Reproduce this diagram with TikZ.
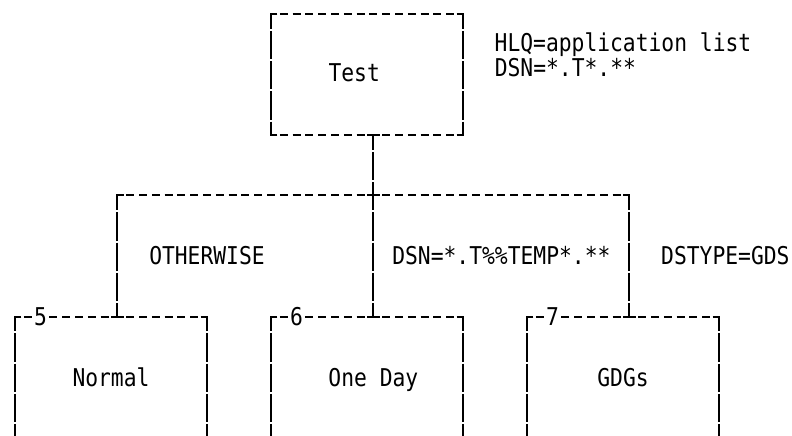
\documentclass[tikz,border=0pt]{standalone}
\usepackage{fontspec}
\setmonofont[FakeStretch=0.87]{DejaVu Sans Mono}
\begin{document}
\begin{tikzpicture}[x=1pt,y=-1pt]
\tikzset{
  lin/.style={line width=2pt, black},
  hd/.style={lin, dash pattern=on 8pt off 4.8pt, dash phase=4pt},
  hdb/.style={lin, dash pattern=on 8pt off 4.8pt, dash phase=10.4pt},
  vd/.style={lin, dash pattern=on 28.23pt off 2pt, dash phase=#1pt},
  txt/.style={font=\ttfamily\fontsize{24.5}{29}\selectfont, inner sep=0pt, anchor=base},
}
\useasboundingbox (0,0) rectangle (792,436);

% ---------- Test box ----------
\coordinate (tTL) at (271,14);
\coordinate (tTR) at (463,14);
\coordinate (tBL) at (271,135);
\coordinate (tBR) at (463,135);
\coordinate (tJ) at (373.4,135);
\draw[hd] (tTL) -- (tTR);
\draw[hd] (tBL) -- (tBR);
\draw[vd=13.23] (tTL) -- (tBL);
\draw[vd=13.23] (tTR) -- (tBR);
\draw[lin] (tTL) ++(6.4,0) -- ++(-6.4,0) -- ++(0,6.4);
\draw[lin] (tTR) ++(-6.4,0) -- ++(6.4,0) -- ++(0,6.4);
\draw[lin] (tBL) ++(6.4,0) -- ++(-6.4,0) -- ++(0,-6.4);
\draw[lin] (tBR) ++(-6.4,0) -- ++(6.4,0) -- ++(0,-6.4);
\draw[lin] (tJ) ++(-6.4,0) -- ++(12.8,0);

\node[txt] (test) at (354.2,81.7) {Test};
\node[txt] (hlq) at (623,51.7) {HLQ=application list};
\node[txt] (dsn1) at (565.4,76.7) {DSN=*.T*.**};

% ---------- bus ----------
\coordinate (busL) at (117.4,195);
\coordinate (busR) at (629.4,195);
\coordinate (busJ) at (373.4,195);
\draw[vd=13.31] (tJ) -- (busJ);
\draw[hd] (busL) -- (busR);
\draw[lin] (busL) ++(6.4,0) -- ++(-6.4,0) -- ++(0,6.4);
\draw[lin] (busR) ++(-6.4,0) -- ++(6.4,0) -- ++(0,6.4);
\draw[lin] (busJ) ++(-6.4,0) -- ++(12.8,0);

\node[txt] (oth) at (207,264) {OTHERWISE};
\node[txt] (dsn2) at (501.4,264) {DSN=*.T\%\%TEMP*.**};
\node[txt] (dst) at (725.4,264) {DSTYPE=GDS};

% ---------- child boxes ----------
\foreach \L/\n/\lab/\off in {15/5/Normal/96, 271/6/One Day/102.4, 527/7/GDGs/96}{
  \pgfmathsetmacro{\R}{\L+192}
  \pgfmathsetmacro{\J}{\L+102.4}
  \coordinate (k\n TL) at (\L,317);
  \coordinate (k\n TR) at (\R,317);
  \coordinate (k\n J) at (\J,317);
  \coordinate (k\n BL) at (\L,436);
  \coordinate (k\n BR) at (\R,436);
  \draw[hd] (k\n TL) -- ++(19.2,0);
  \draw[hdb] (k\n TL) ++(32,0) -- (k\n TR);
  \draw[vd=13.93] (k\n TL) -- (k\n BL);
  \draw[vd=13.93] (k\n TR) -- (k\n BR);
  \draw[lin] (k\n TL) ++(6.4,0) -- ++(-6.4,0) -- ++(0,6.4);
  \draw[lin] (k\n TR) ++(-6.4,0) -- ++(6.4,0) -- ++(0,6.4);
  \draw[lin] (k\n J) ++(-6.4,0) -- ++(12.8,0);
  \node[txt] (k\n num) at (\L+25.6,325.5) {\n};
  \node[txt] (k\n lab) at (\L+\off,386.5) {\lab};
}
\draw[vd=12.85] (busL) -- (k5J);
\draw[vd=12.85] (busJ) -- (k6J);
\draw[vd=12.85] (busR) -- (k7J);
\end{tikzpicture}
\end{document}
